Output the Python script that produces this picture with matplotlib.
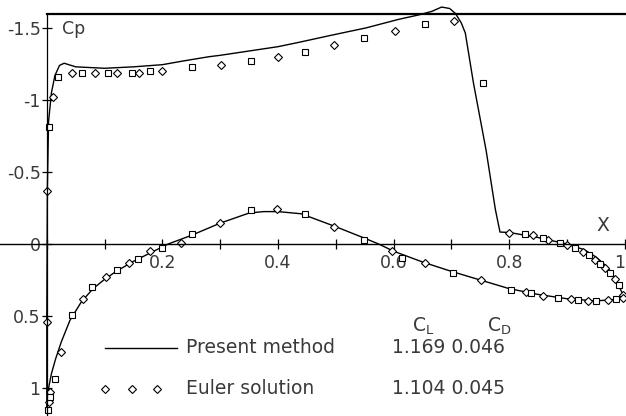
import matplotlib
matplotlib.use("Agg")
import matplotlib.pyplot as plt
from matplotlib.ticker import MultipleLocator, FixedLocator, FuncFormatter

plt.rcParams["font.family"] = ["DejaVu Sans"]
plt.rcParams["axes.unicode_minus"] = False

# present method, suction side (leading edge -> trailing edge)
upper_x = [0.0, 0.0, 0.001, 0.003, 0.008, 0.014, 0.022, 0.030, 0.05, 0.10, 0.15, 0.20,
           0.235, 0.28, 0.30, 0.35, 0.40, 0.436, 0.493, 0.552, 0.609, 0.643, 0.666,
           0.683, 0.697, 0.707, 0.717, 0.724, 0.738, 0.76, 0.776, 0.784, 0.80, 0.85,
           0.884, 0.90, 0.93, 0.95, 0.97, 0.985, 1.0]
upper_cp = [1.15, 0.5, -0.4, -0.85, -1.05, -1.17, -1.24, -1.255, -1.23, -1.22, -1.23, -1.245,
            -1.27, -1.30, -1.31, -1.34, -1.37, -1.40, -1.45, -1.50, -1.56, -1.59, -1.615,
            -1.645, -1.635, -1.60, -1.535, -1.465, -1.12, -0.65, -0.24, -0.083, -0.08, -0.045,
            -0.014, 0.0, 0.04, 0.09, 0.16, 0.25, 0.38]

# present method, pressure side
lower_x = [0.0, 0.003, 0.008, 0.015, 0.025, 0.04, 0.06, 0.08, 0.10, 0.12, 0.15, 0.18,
           0.21, 0.25, 0.30, 0.35, 0.375, 0.40, 0.44, 0.50, 0.55, 0.574, 0.60, 0.65,
           0.70, 0.75, 0.80, 0.85, 0.90, 0.95, 1.0]
lower_cp = [1.15, 1.0, 0.9, 0.8, 0.68, 0.53, 0.40, 0.31, 0.245, 0.19, 0.12, 0.06,
            0.0, -0.06, -0.145, -0.215, -0.225, -0.225, -0.21, -0.12, -0.04, 0.0, 0.05, 0.125,
            0.19, 0.25, 0.31, 0.35, 0.38, 0.395, 0.38]

# Euler solution
euler_up_x = [0.001, 0.003, 0.010, 0.019, 0.043, 0.060, 0.083, 0.105, 0.121, 0.148, 0.160,
              0.179, 0.200, 0.252, 0.302, 0.353, 0.400, 0.447, 0.497, 0.548, 0.602, 0.655,
              0.705, 0.755, 0.800, 0.828, 0.841, 0.859, 0.867, 0.888, 0.900, 0.914, 0.928,
              0.938, 0.948, 0.957, 0.966, 0.974, 0.983, 0.990, 0.997]
euler_up_cp = [-0.37, -0.81, -1.02, -1.16, -1.19, -1.19, -1.19, -1.19, -1.19, -1.19, -1.19,
               -1.20, -1.20, -1.23, -1.24, -1.27, -1.30, -1.33, -1.38, -1.43, -1.48, -1.53,
               -1.55, -1.12, -0.075, -0.07, -0.06, -0.04, -0.03, -0.01, 0.005, 0.03, 0.055,
               0.075, 0.11, 0.14, 0.165, 0.20, 0.245, 0.285, 0.355]
euler_lo_x = [0.001, 0.002, 0.003, 0.005, 0.006, 0.014, 0.024, 0.043, 0.062, 0.079, 0.103,
              0.121, 0.143, 0.157, 0.178, 0.200, 0.233, 0.252, 0.300, 0.353, 0.398, 0.447,
              0.497, 0.548, 0.598, 0.614, 0.655, 0.703, 0.752, 0.803, 0.829, 0.838, 0.859,
              0.884, 0.907, 0.919, 0.936, 0.950, 0.971, 0.984, 0.997]
euler_lo_cp = [0.54, 1.15, 1.10, 1.06, 1.03, 0.94, 0.75, 0.49, 0.38, 0.30, 0.23,
               0.18, 0.13, 0.105, 0.05, 0.03, -0.01, -0.07, -0.145, -0.235, -0.24, -0.21,
               -0.12, -0.03, 0.05, 0.10, 0.13, 0.20, 0.25, 0.32, 0.335, 0.34, 0.36,
               0.375, 0.38, 0.39, 0.395, 0.395, 0.39, 0.38, 0.375]

legend_rows = ["Present method", "Euler solution"]
cl_values = ["1.169", "1.104"]
cd_values = ["0.046", "0.045"]

x_ticks = [0.2, 0.4, 0.6, 0.8, 1.0]
y_ticks = [-1.5, -1.0, -0.5, 0.0, 0.5, 1.0]

text_color = "#3a3a3a"
fs = 12.5

fig = plt.figure(figsize=(6.26, 4.16), dpi=100)
ax = fig.add_axes([0, 0, 1, 1])
ax.set_xlim(-0.081, 1.002)
ax.set_ylim(1.194, -1.694)

ax.spines["right"].set_visible(False)
ax.spines["left"].set_position(("data", 0))
ax.spines["bottom"].set_position(("data", 0))
ax.spines["top"].set_position(("data", -1.6))
ax.spines["top"].set_bounds(0, 1.002)
ax.spines["left"].set_bounds(1.194, -1.6)
ax.spines["top"].set_linewidth(1.6)
ax.spines["left"].set_linewidth(0.9)
ax.spines["bottom"].set_linewidth(1.0)

ax.xaxis.set_major_locator(FixedLocator(x_ticks))
ax.xaxis.set_minor_locator(MultipleLocator(0.1))
ax.yaxis.set_major_locator(FixedLocator(y_ticks))
ax.xaxis.set_major_formatter(FuncFormatter(lambda v, p: f"{v:g}"))
ax.yaxis.set_major_formatter(FuncFormatter(lambda v, p: f"{v:g}"))
ax.tick_params(axis="both", which="both", direction="inout", length=7, width=0.9,
               colors="black", labelcolor=text_color, labelsize=fs, top=False, right=False)
ax.tick_params(axis="x", pad=4)
ax.tick_params(axis="y", pad=1)
ax.patch.set_visible(False)

# last x label sits at the right edge of the figure: keep it inside
fig.canvas.draw()
ax.get_xticklabels()[-1].set_horizontalalignment("right")

ax.plot(upper_x, upper_cp, color="black", lw=1.0)
ax.plot(lower_x, lower_cp, color="black", lw=1.0)

mk = dict(ls="none", mfc="white", mec="black", mew=0.8, ms=4.2)
for xs, ys in ((euler_up_x, euler_up_cp), (euler_lo_x, euler_lo_cp)):
    ax.plot(xs[::2], ys[::2], marker="D", **mk)
    ax.plot(xs[1::2], ys[1::2], marker="s", **mk)

ax.text(0.026, -1.49, "Cp", fontsize=fs, color=text_color, va="center", ha="left")
ax.text(0.962, -0.13, "X", fontsize=fs + 1, color=text_color, va="center", ha="center")

# legend block
ax.plot([0.10, 0.226], [0.72, 0.72], color="black", lw=1.0)
ax.plot([0.10, 0.147, 0.191], [1.01, 1.01, 1.01], marker="D", **mk)
row_y = [0.72, 1.0]
for label, cl, cd, yy in zip(legend_rows, cl_values, cd_values, row_y):
    ax.text(0.24, yy, label, fontsize=fs + 1, color=text_color, va="center", ha="left")
    ax.text(0.597, yy, f"{cl} {cd}", fontsize=fs + 1, color=text_color, va="center", ha="left")
ax.text(0.632, 0.57, r"$\mathrm{C_L}$", fontsize=fs + 1, color=text_color, va="center")
ax.text(0.762, 0.57, r"$\mathrm{C_D}$", fontsize=fs + 1, color=text_color, va="center")

fig.savefig("out.png", dpi=100)
